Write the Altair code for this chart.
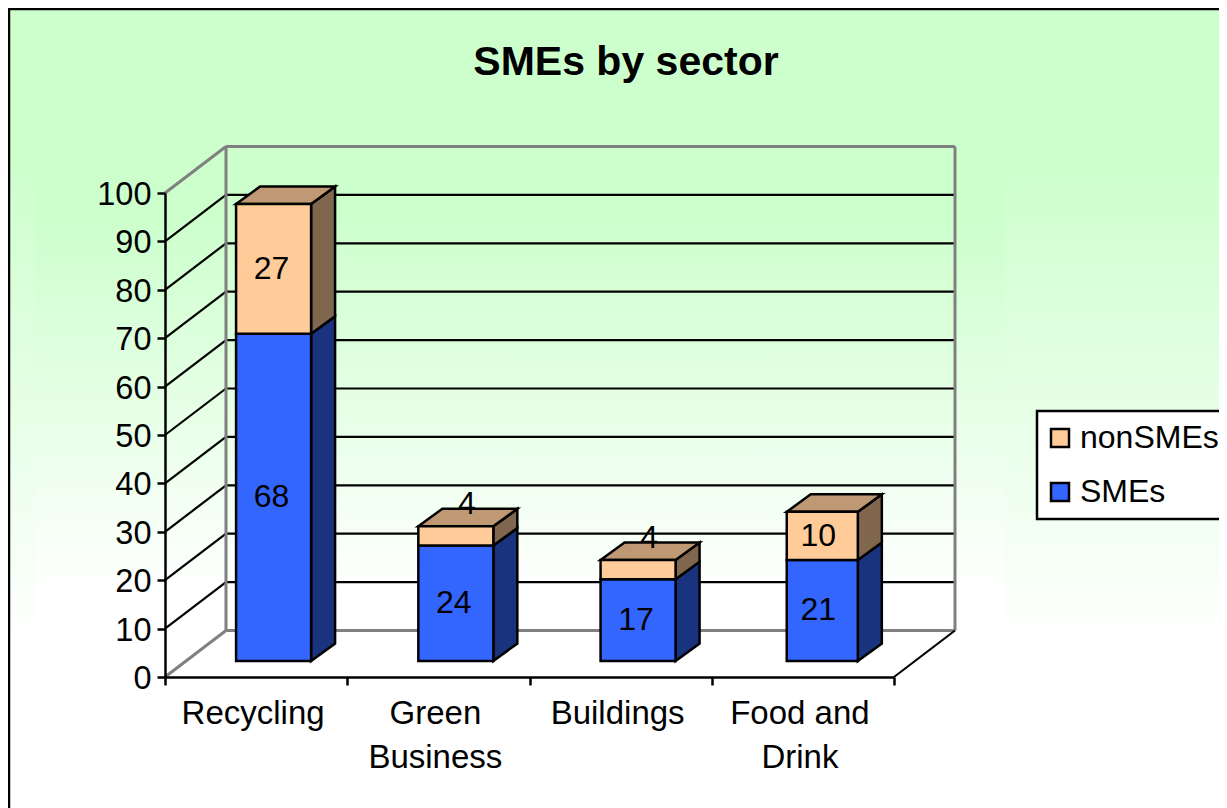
import altair as alt

categories = ["Recycling", "Green\nBusiness", "Buildings", "Food and\nDrink"]
smes = [68, 24, 17, 21]
non_smes = [27, 4, 4, 10]
y_ticks = [0, 10, 20, 30, 40, 50, 60, 70, 80, 90, 100]
x_ticks = [0, 1, 2, 3, 4]
series_names = ["nonSMEs", "SMEs"]

FONT = "Liberation Sans"
W, H = 729, 484
PX, PY = W / 4, H / 100          # pixels per data unit
WALL_DX, WALL_DY = 61 / PX, 46.5 / PY
BAR_X0 = [0.39, 0.39, 0.39, 0.4115]
BAR_X1 = 0.39 + 75 / PX
BAR_DX, BAR_DY = 24 / PX, 17.5 / PY
BAR_BASE = 16 / PY
BAR_SCALE = 0.994                # the bars stand a little deeper than the front axis

BLUE, BLUE_SIDE = "#3366FF", "#19337F"
PEACH, PEACH_SIDE, PEACH_TOP = "#FFCC99", "#7F664C", "#BF9973"

y_scale = alt.Scale(domain=[0, 100], nice=False, zero=False)
x_scale = alt.Scale(domain=[0, 4], nice=False, zero=False)
y_axis = alt.Axis(values=y_ticks, title=None, grid=False, tickSize=8, tickWidth=2.5, tickColor="black",
                  domainColor="black", domainWidth=2.5, labelFont=FONT, labelFontSize=32.5, labelColor="black",
                  labelPadding=6, labelOffset=1.5, zindex=1)
x_axis = alt.Axis(values=x_ticks, title=None, grid=False, tickSize=8, tickWidth=2.5, tickColor="black",
                  domainColor="black", domainWidth=2.5, labels=False, zindex=1)


def X(f):
    return alt.X(f"{f}:Q", scale=x_scale, axis=x_axis)


def Y(f, **kw):
    return alt.Y(f"{f}:Q", scale=y_scale, axis=y_axis, **kw)


one = alt.Data(values=[{"a": 1}])


def backdrop(x, x2, y, y2, start, end, **kw):
    grad = alt.LinearGradient(gradient="linear", x1=0, x2=0, y1=0, y2=1,
                              stops=[alt.GradientStop(color="#CCFFCC", offset=start),
                                     alt.GradientStop(color="#FFFFFF", offset=end)])
    return alt.Chart(one).mark_rect(fill=grad, **kw).encode(
        x=alt.value(x), x2=alt.value(x2), y=alt.value(y), y2=alt.value(y2))


page = backdrop(-156, 1100, -184, 700, 0.17, 0.72, stroke="black", strokeWidth=2.5)
panel = backdrop(-130, 840, -50, 542, 0.12, 0.76)


def segs(rows):
    return alt.Data(values=rows)


def rules(rows, color, width):
    return alt.Chart(segs(rows)).mark_rule(color=color, strokeWidth=width).encode(
        x=X("x"), x2="x2:Q", y=Y("y"), y2="y2:Q")


back_grid = rules([{"x": WALL_DX, "x2": 4 + WALL_DX, "y": v + WALL_DY, "y2": v + WALL_DY}
                   for v in y_ticks[1:-1]], "black", 2.2)
side_grid = rules([{"x": 0, "x2": WALL_DX, "y": v, "y2": v + WALL_DY} for v in y_ticks[1:-1]], "black", 2.2)
wall_lines = rules([
    {"x": WALL_DX, "x2": 4 + WALL_DX, "y": WALL_DY, "y2": WALL_DY},
    {"x": WALL_DX, "x2": 4 + WALL_DX, "y": 100 + WALL_DY, "y2": 100 + WALL_DY},
    {"x": WALL_DX, "x2": WALL_DX, "y": WALL_DY, "y2": 100 + WALL_DY},
    {"x": 4 + WALL_DX, "x2": 4 + WALL_DX, "y": WALL_DY, "y2": 100 + WALL_DY},
    {"x": 0, "x2": WALL_DX, "y": 0, "y2": WALL_DY},
    {"x": 0, "x2": WALL_DX, "y": 100, "y2": 100 + WALL_DY},
], "#808080", 3)
floor_edge = rules([{"x": 4, "x2": 4 + WALL_DX, "y": 0, "y2": WALL_DY}], "black", 2.2)

front, sides_blue, sides_peach, tops, labels, small_labels = [], [], [], [], [], []
for i, (cat, a, b) in enumerate(zip(categories, smes, non_smes)):
    left = i + BAR_X0[i]
    right = i + BAR_X1
    lo = BAR_BASE
    mid = lo + a * BAR_SCALE
    hi = mid + b * BAR_SCALE
    front.append({"x": left, "x2": right, "y": lo, "y2": mid, "s": "SMEs"})
    front.append({"x": left, "x2": right, "y": mid, "y2": hi, "s": "nonSMEs"})
    for k in (0, 1):
        sides_blue.append({"c": i, "x": right + k * BAR_DX, "y": lo + k * BAR_DY, "y2": mid + k * BAR_DY})
        sides_peach.append({"c": i, "x": right + k * BAR_DX, "y": mid + k * BAR_DY, "y2": hi + k * BAR_DY})
        tops.append({"c": i, "y": hi + k * BAR_DY, "x": left + k * BAR_DX, "x2": right + k * BAR_DX})
    cx = i + (BAR_X0[0] + BAR_X1) / 2
    labels.append({"x": cx, "y": (lo + mid) / 2, "t": str(a)})
    if b > 4:
        labels.append({"x": cx, "y": (mid + hi) / 2, "t": str(b)})
    else:
        small_labels.append({"x": cx, "y": (mid + hi) / 2, "t": str(b)})

color = alt.Color("s:N", scale=alt.Scale(domain=series_names, range=[PEACH, BLUE]),
                  legend=alt.Legend(title=None, orient="none", legendX=872, legendY=218, fillColor="white",
                                    strokeColor="black", padding=11, symbolType="square",
                                    symbolSize=324, symbolStrokeColor="black", symbolStrokeWidth=2.5,
                                    symbolOffset=-4, labelFont=FONT, labelFontSize=32, labelColor="black",
                                    labelOffset=4, rowPadding=22, labelLimit=300))
front_layer = alt.Chart(segs(front)).mark_rect(stroke="black", strokeWidth=2.5).encode(
    x=X("x"), x2="x2:Q", y=Y("y"), y2="y2:Q", color=color)


def side(rows, fill):
    return alt.Chart(segs(rows)).mark_area(fill=fill, stroke="black", strokeWidth=2.5, orient="vertical").encode(
        x=X("x"), y=Y("y", stack=False), y2="y2:Q", detail="c:N")


side_b = side(sides_blue, BLUE_SIDE)
side_p = side(sides_peach, PEACH_SIDE)
top_layer = alt.Chart(segs(tops)).mark_area(fill=PEACH_TOP, stroke="black", strokeWidth=2.5, orient="horizontal").encode(
    y=alt.Y("y:Q", scale=y_scale, axis=y_axis), x=alt.X("x:Q", scale=x_scale, axis=x_axis, stack=False), x2="x2:Q",
    detail="c:N")

value_text = alt.Chart(segs(labels)).mark_text(font=FONT, fontSize=32, color="black", dx=-2).encode(
    x=X("x"), y=Y("y"), text="t:N")
small_text = alt.Chart(segs(small_labels)).mark_text(font=FONT, fontSize=32, color="black", dx=11, dy=-32).encode(
    x=X("x"), y=Y("y"), text="t:N")

cat_rows = [{"x": i + 0.5, "t": c} for i, c in enumerate(categories)]
cat_text = alt.Chart(segs(cat_rows)).mark_text(font=FONT, fontSize=33, color="black", baseline="top",
                                               lineBreak="\n", lineHeight=44, dx=-3).encode(
    x=X("x"), y=alt.value(H + 21), text="t:N")

chart = alt.layer(page, panel, back_grid, side_grid, wall_lines, floor_edge, side_b, side_p, top_layer,
                  front_layer, value_text, small_text, cat_text).properties(
    width=W, height=H,
    title=alt.TitleParams("SMEs by sector", font=FONT, fontSize=41, fontWeight="bold", color="black",
                          anchor="middle", frame="group", dx=96.5, offset=-76),
    autosize=alt.AutoSizeParams(type="none"),
    padding={"left": 157, "top": 185, "right": 325, "bottom": 131},
).configure_view(stroke=None).configure_legend(strokeWidth=2.5)

chart.save("out.html", embed_options={"renderer": "svg", "actions": False})
